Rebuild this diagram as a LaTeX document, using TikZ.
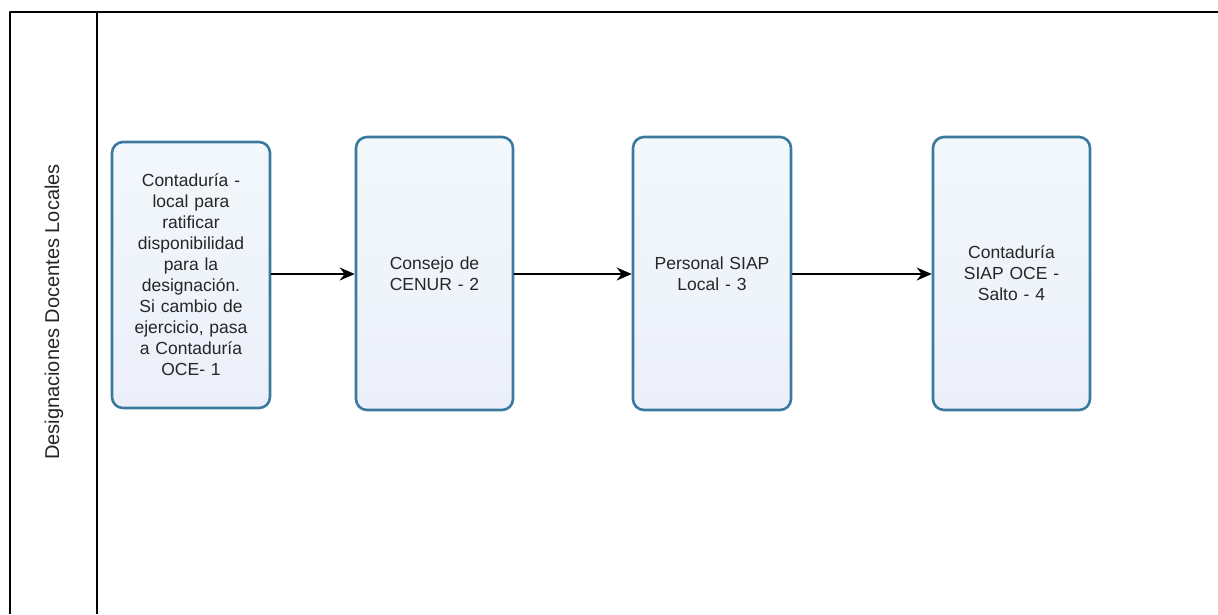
\documentclass[tikz,border=0pt]{standalone}
\usepackage{fontspec}
\setmainfont{Liberation Sans}
\usetikzlibrary{arrows.meta}
\definecolor{cajaborde}{RGB}{58,122,158}
\definecolor{cajaarriba}{RGB}{242,248,252}
\definecolor{cajaabajo}{RGB}{236,239,249}
\tikzset{
  caja/.style={draw=cajaborde,line width=2.6pt,rounded corners=11pt,top color=cajaarriba,bottom color=cajaabajo,
    align=center,text width=145pt,font=\fontsize{17.5}{21}\selectfont,text=black!85,inner sep=0pt},
  flecha/.style={-{Stealth[length=15pt,width=13pt]},line width=1.5pt}
}
\begin{document}
\begin{tikzpicture}[x=1pt,y=-1pt,line cap=round,line join=round]
				\useasboundingbox (0,0) rectangle (1218,614);
				
				\draw[line width=1.8pt,line cap=butt] (1218,12) -- (10,12) -- (10,614);
				\draw[line width=1.8pt,line cap=butt] (97,12) -- (97,614);
				\node[rotate=90,font=\fontsize{20}{24}\selectfont,text=black!85] (carril) at (54,312) {Designaciones Docentes Locales};
				
				\node[caja,minimum width=158pt,minimum height=266pt] (c1) at (191,275) {Contaduría -\\ local para\\ ratificar\\ disponibilidad\\ para la\\ designación.\\ Si cambio de\\ ejercicio, pasa\\ a Contaduría\\ OCE- 1};
				
				\node[caja,minimum width=157pt,minimum height=273pt] (c2) at (434.5,273.5) {Consejo de\\ CENUR - 2};
				
				\node[caja,minimum width=158pt,minimum height=273pt] (c3) at (712,273.5) {Personal SIAP\\ Local - 3};
				
				\node[caja,minimum width=157pt,minimum height=273pt] (c4) at (1011.5,273.5) {Contaduría\\ SIAP OCE -\\ Salto - 4};
				
				\draw[flecha] (c1.east |- 0,274) -- (c2.west |- 0,274);
				\draw[flecha] (c2.east |- 0,274) -- (c3.west |- 0,274);
				\draw[flecha] (c3.east |- 0,274) -- (c4.west |- 0,274);
\end{tikzpicture}
\end{document}
